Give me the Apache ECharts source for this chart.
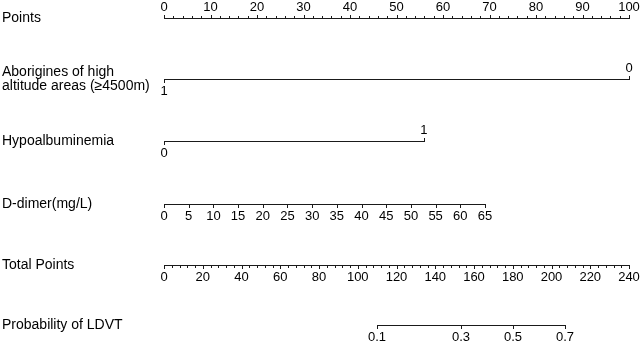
<!DOCTYPE html>
<html>
<head>
<meta charset="utf-8">
<script src="https://cdn.jsdelivr.net/npm/echarts@6/dist/echarts.min.js"></script>
<style>
    html, body { margin: 0; padding: 0; background: #fff; }
    #main { width: 641px; height: 344px; }
</style>
</head>
<body>
<div id="main"></div>
<script>
// row titles
var rowNames = ['Points', 'Aborigines of high\naltitude areas (\u22654500m)', 'Hypoalbuminemia',
    'D-dimer(mg/L)', 'Total Points', 'Probability of LDVT'];

// points scale
var pointsTicks = [0, 10, 20, 30, 40, 50, 60, 70, 80, 90, 100];

// aborigines of high altitude areas: level -> points
var aborLevels = ['0', '1'];
var aborPoints = [100, 0];

// hypoalbuminemia: level -> points
var hypoLevels = ['0', '1'];
var hypoPoints = [0, 55.9];

// D-dimer (mg/L), points per mg/L
var ddimerTicks = [0, 5, 10, 15, 20, 25, 30, 35, 40, 45, 50, 55, 60, 65];
var ddimerPointsPer = 1.062;

// total points scale
var totalTicks = [0, 20, 40, 60, 80, 100, 120, 140, 160, 180, 200, 220, 240];

// probability -> total points
var probTicks = ['0.1', '0.3', '0.5', '0.7'];
var probTotal = [109.9, 153.3, 180.1, 207.0];

var rowTops = [18, 79, 141, 204, 265, 325];
var FONT = '"Liberation Sans", Arial, Helvetica, sans-serif';
var INK = '#1a1a1a';

var rows = [
    {xs: pointsTicks, labels: pointsTicks.map(String), max: 100, side: 'top', minorStep: 2},
    {xs: aborPoints, labels: aborLevels, max: 100, binary: true},
    {xs: hypoPoints, labels: hypoLevels, max: 100, binary: true},
    {xs: ddimerTicks.map(function (v) { return v * ddimerPointsPer; }), labels: ddimerTicks.map(String), max: 100, side: 'bottom'},
    {xs: totalTicks, labels: totalTicks.map(String), max: 240, side: 'bottom', minorStep: 4},
    {xs: probTotal, labels: probTicks, max: 240, side: 'bottom'}
];

function px(v) { return Math.round(v) + 0.5; }

function makeRender(row, rowIndex) {
    var lo = Math.min.apply(null, row.xs);
    var hi = Math.max.apply(null, row.xs);
    return function (params, api) {
        var i = params.dataIndex;
        var p = api.coord([row.xs[i], 1]);
        var y = px(p[1]);
        var x = px(p[0]);
        var side = row.binary ? (row.xs[i] === hi ? 'top' : 'bottom') : row.side;
        var dir = side === 'top' ? -1 : 1;
        var children = [];
        if (i === 0) {
            var a = api.coord([lo, 1]), b = api.coord([hi, 1]);
            children.push({type: 'line', shape: {x1: px(a[0]) - 0.5, y1: y, x2: px(b[0]) + 0.5, y2: y},
                style: {stroke: INK, lineWidth: 1.2}});
            if (row.minorStep) {
                for (var m = lo; m <= hi; m += row.minorStep) {
                    var c = api.coord([m, 1]);
                    children.push({type: 'line', shape: {x1: px(c[0]), y1: y, x2: px(c[0]), y2: y + dir * 2.5},
                        style: {stroke: INK, lineWidth: 1}});
                }
            }
            children.push({type: 'text', style: {text: rowNames[rowIndex], x: 2, y: y,
                fill: '#000', font: '14px ' + FONT, lineHeight: 14, align: 'left', verticalAlign: 'middle'}});
        }
        children.push({type: 'line', shape: {x1: x, y1: y, x2: x, y2: y + dir * 3.5},
            style: {stroke: INK, lineWidth: 1}});
        children.push({type: 'text', style: {text: row.labels[i], x: p[0], y: p[1] + dir * (side === 'top' ? 10.5 : 12),
            fill: '#000', font: '13px ' + FONT, align: 'center', verticalAlign: 'middle'}});
        return {type: 'group', children: children};
    };
}

var option = {
    backgroundColor: '#fff',
    animation: false,
    grid: rowTops.map(function (t) { return {left: 164, right: 12, top: t, height: 1}; }),
    xAxis: rows.map(function (r, i) { return {type: 'value', gridIndex: i, min: 0, max: r.max, show: false}; }),
    yAxis: rows.map(function (r, i) { return {type: 'value', gridIndex: i, min: 0, max: 1, show: false}; }),
    series: rows.map(function (r, i) {
        return {
            type: 'custom',
            xAxisIndex: i,
            yAxisIndex: i,
            silent: true,
            renderItem: makeRender(r, i),
            data: r.xs.map(function (x) { return [x, 1]; })
        };
    })
};

var chart = echarts.init(document.getElementById('main'));
chart.setOption(option);
</script>
</body>
</html>
